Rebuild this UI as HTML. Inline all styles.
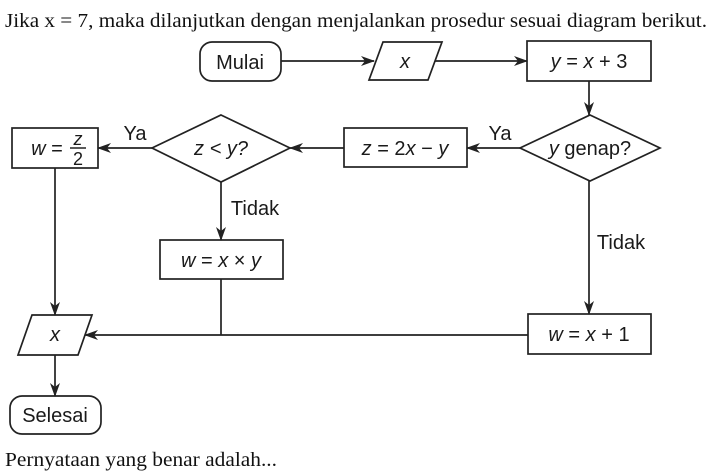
<!DOCTYPE html>
<html><head><meta charset="utf-8"><style>
html,body{margin:0;padding:0;background:#fff;}
svg{display:block;}
</style></head><body>
<svg width="714" height="472" viewBox="0 0 714 472" xmlns="http://www.w3.org/2000/svg">
<defs>
<marker id="a" markerWidth="14" markerHeight="10" refX="13" refY="5" orient="auto" markerUnits="userSpaceOnUse">
<path d="M0,0 L14,5 L0,10 L4,5 Z" fill="#222"/>
</marker>
</defs>
<g font-family="Liberation Serif, serif" font-size="20" fill="#111">
<text x="5" y="27" textLength="702" lengthAdjust="spacingAndGlyphs">Jika x = 7, maka dilanjutkan dengan menjalankan prosedur sesuai diagram berikut.</text>
<text x="5" y="466" textLength="272" lengthAdjust="spacingAndGlyphs">Pernyataan yang benar adalah...</text>
</g>
<g stroke="#222" stroke-width="1.7" fill="none">
<rect x="200" y="42" width="81" height="39" rx="12"/>
<polygon points="383,42 442,42 428,80 369,80"/>
<rect x="527" y="41" width="124" height="40"/>
<polygon points="590,115 660,148 590,181 520,148"/>
<rect x="344" y="128" width="123" height="39"/>
<polygon points="221,115 290,148 221,182 152,148"/>
<rect x="12" y="128" width="86" height="40"/>
<rect x="160" y="240" width="123" height="39"/>
<rect x="528" y="314" width="123" height="40"/>
<polygon points="32,315 92,315 78,355 18,355"/>
<rect x="10" y="396" width="91" height="38" rx="12"/>
<line x1="281" y1="61" x2="374" y2="61" marker-end="url(#a)"/>
<line x1="435" y1="61" x2="527" y2="61" marker-end="url(#a)"/>
<line x1="589" y1="81" x2="589" y2="115" marker-end="url(#a)"/>
<line x1="520" y1="148" x2="467" y2="148" marker-end="url(#a)"/>
<line x1="344" y1="148" x2="290" y2="148" marker-end="url(#a)"/>
<line x1="152" y1="148" x2="98" y2="148" marker-end="url(#a)"/>
<line x1="221" y1="182" x2="221" y2="240" marker-end="url(#a)"/>
<line x1="589" y1="181" x2="589" y2="314" marker-end="url(#a)"/>
<line x1="221" y1="279" x2="221" y2="335"/>
<line x1="528" y1="335" x2="85" y2="335" marker-end="url(#a)"/>
<line x1="55" y1="168" x2="55" y2="315" marker-end="url(#a)"/>
<line x1="55" y1="355" x2="55" y2="396" marker-end="url(#a)"/>
</g>
<g font-family="Liberation Sans, DejaVu Sans, sans-serif" font-size="20" fill="#1a1a1a" text-anchor="middle">
<text x="240" y="69">Mulai</text>
<text x="405" y="68" font-style="italic">x</text>
<text x="589" y="68"><tspan font-style="italic">y</tspan> = <tspan font-style="italic">x</tspan> + 3</text>
<text x="590" y="155"><tspan font-style="italic">y</tspan> genap?</text>
<text x="405" y="155"><tspan font-style="italic">z</tspan> = 2<tspan font-style="italic">x</tspan> − <tspan font-style="italic">y</tspan></text>
<text x="221" y="155" font-style="italic">z &lt; y?</text>
<text x="47" y="155"><tspan font-style="italic">w</tspan> =</text>
<text x="78" y="145" font-style="italic" font-size="18">z</text>
<line x1="70" y1="148" x2="86" y2="148" stroke="#222" stroke-width="1.5"/>
<text x="78" y="165" font-size="18">2</text>
<text x="221" y="267"><tspan font-style="italic">w</tspan> = <tspan font-style="italic">x</tspan> × <tspan font-style="italic">y</tspan></text>
<text x="589" y="341"><tspan font-style="italic">w</tspan> = <tspan font-style="italic">x</tspan> + 1</text>
<text x="55" y="341" font-style="italic">x</text>
<text x="55" y="422">Selesai</text>
<text x="135" y="140">Ya</text>
<text x="500" y="140">Ya</text>
<text x="255" y="215">Tidak</text>
<text x="621" y="249">Tidak</text>
</g>
</svg>
</body></html>
